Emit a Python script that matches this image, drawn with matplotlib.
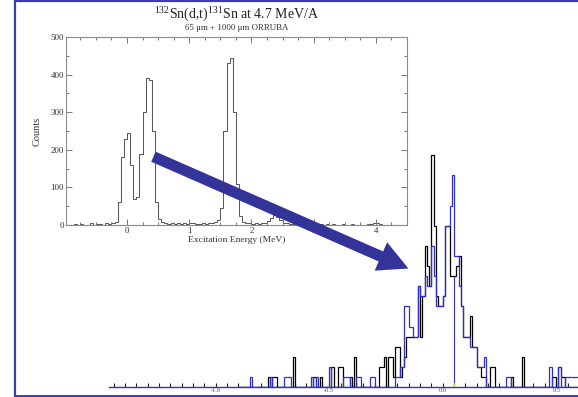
import numpy as np
import matplotlib
matplotlib.use("Agg")
import matplotlib.pyplot as plt
from matplotlib.ticker import MultipleLocator, FixedLocator
from matplotlib.patches import FancyArrow

plt.rcParams["font.family"] = ["Liberation Serif", "DejaVu Serif"]
plt.rcParams["mathtext.fontset"] = "custom"
plt.rcParams["mathtext.rm"] = "Liberation Serif"

# ---- inset spectrum: 132Sn(d,t)131Sn excitation energy, 0.05 MeV bins ----
inset_edge_start = -1.0
inset_bin_width = 0.05
inset_counts = [
    0, 0, 0, 2, 0, 3, 0, 1, 4, 0,
    2, 3, 1, 4, 2, 5, 8, 60, 180, 230,
    245, 160, 70, 75, 190, 300, 390, 385, 250, 60,
    15, 8, 5, 3, 6, 2, 4, 3, 5, 2,
    4, 6, 3, 2, 5, 3, 4, 6, 8, 12,
    45, 250, 430, 445, 300, 110, 25, 8, 4, 6,
    3, 5, 2, 4, 6, 10, 18, 27, 22, 12,
    6, 4, 3, 2, 4, 1, 3, 2, 1, 3,
    2, 1, 2, 0, 2, 1, 3, 0, 1, 2,
    0, 1, 2, 0, 1, 1, 0, 2, 3, 6,
    5, 2, 1, 0, 1, 0, 1, 0, 0, 0,
]
inset_xticks = [0, 1, 2, 3, 4]
inset_yticks = [0, 100, 200, 300, 400, 500]

# ---- main spectrum: two gated histograms, 0.01 MeV bins ----
main_edge_start = -0.90
main_bin_width = 0.01
black_counts = [
    0, 0, 0, 0, 0, 0, 0, 0, 0, 0, 0, 0, 0, 1, 0, 1, 1, 0, 0,
    0, 0, 0, 0, 0, 3, 0, 0, 0, 0, 0, 0, 0, 0, 1, 0, 0, 1, 0,
    0, 0, 0, 2, 0, 0, 2, 2, 0, 0, 0, 1, 0, 3, 0, 0, 0, 0, 0,
    0, 0, 0, 0, 0, 2, 2, 3, 0, 3, 3, 1, 4, 4, 1, 2, 3, 5, 5,
    5, 5, 5, 10, 5, 9, 14, 12, 10, 23, 16, 9, 8, 8, 9, 16, 16, 11, 11,
    11, 12, 13, 8, 5, 5, 5, 7, 4, 4, 2, 2, 1, 1, 0, 0, 2, 2, 0,
    0, 0, 0, 0, 0, 0, 1, 0, 0, 0, 0, 3, 0, 0, 0, 0, 0, 0, 0,
    0, 0, 0, 0, 0, 1, 1, 0, 2, 1, 1, 0, 0, 0, 0, 0, 0, 0, 0,
]
blue_counts = [
    0, 0, 0, 0, 0, 1, 0, 0, 0, 0, 0, 0, 0, 0, 1, 0, 0, 0, 0,
    0, 1, 1, 1, 0, 0, 0, 0, 0, 0, 0, 0, 0, 1, 0, 1, 0, 0, 0,
    0, 0, 2, 0, 0, 0, 0, 0, 1, 1, 1, 0, 0, 0, 1, 1, 0, 0, 0,
    0, 1, 1, 0, 0, 0, 0, 0, 0, 0, 0, 0, 1, 1, 2, 2, 8, 8, 6,
    6, 5, 5, 10, 9, 9, 11, 10, 10, 14, 11, 8, 8, 8, 9, 16, 16, 18, 21,
    13, 13, 10, 8, 5, 5, 5, 4, 4, 4, 2, 2, 2, 3, 0, 0, 0, 0, 0,
    0, 0, 0, 0, 1, 1, 0, 0, 0, 0, 0, 0, 0, 0, 0, 0, 0, 0, 0,
    0, 0, 0, 0, 2, 0, 0, 0, 2, 0, 0, 1, 1, 1, 1, 1, 1, 1, 1,
]
main_tick_values = [-1.0, -0.5, 0.0, 0.5]
main_tick_labels = ["-1.0", "-0.5", "0.0", "0.5"]
marker_energy = 0.05
marker_height = 11

W, H = 578, 397
fig = plt.figure(figsize=(W / 100, H / 100), dpi=100)
fig.patch.set_facecolor("white")

# ---------------- main spectrum axes ----------------
ax = fig.add_axes([109 / W, 10 / H, (W - 109) / W, 250 / H])
ax.patch.set_alpha(0)
edges_main = main_edge_start + main_bin_width * np.arange(len(black_counts) + 1)
ax.stairs(black_counts, edges_main, color="black", lw=0.9, zorder=2)
ax.stairs(blue_counts, edges_main, color="#2e2ed2", lw=0.9, zorder=2.1)
ax.vlines(marker_energy, 0, marker_height, color="#2e2ed2", lw=0.8, zorder=2.2)
ax.vlines(marker_energy, 0, 0.4, color="#f0e030", lw=1.2, zorder=3)
ax.set_xlim(-1.47, -1.47 + (W - 109) / 227)
ax.set_ylim(0, 24.8)
for s in ("left", "right", "top"):
    ax.spines[s].set_visible(False)
ax.spines["bottom"].set_color("#3535a8")
ax.spines["bottom"].set_linewidth(1.0)
ax.spines["bottom"].set_zorder(2.5)
ax.set_yticks([])
ax.xaxis.set_major_locator(FixedLocator(main_tick_values))
ax.xaxis.set_minor_locator(MultipleLocator(0.05))
ax.set_xticklabels(main_tick_labels)
ax.tick_params(axis="x", which="both", direction="in", length=2.6, width=0.8,
               color="#222222", labelsize=4.6, labelcolor="#444455", pad=1.0)

# ---------------- inset spectrum axes ----------------
ax2 = fig.add_axes([66 / W, (H - 225) / H, 341 / W, 188 / H])
ax2.set_facecolor("white")
edges_inset = inset_edge_start + inset_bin_width * np.arange(len(inset_counts) + 1)
ax2.stairs(inset_counts, edges_inset, color="#5a5a5a", lw=0.75)
ax2.set_xlim(-0.98, 4.5)
ax2.set_ylim(0, 500)
ax2.set_xticks(inset_xticks)
ax2.set_yticks(inset_yticks)
ax2.xaxis.set_minor_locator(MultipleLocator(0.25))
ax2.yaxis.set_minor_locator(MultipleLocator(50))
for s in ax2.spines.values():
    s.set_color("#8a8a8a")
    s.set_linewidth(0.8)
ax2.tick_params(which="both", direction="in", top=True, right=True,
                color="#777777", width=0.7, labelsize=6.5, labelcolor="#333333")
ax2.tick_params(which="major", length=4.5, pad=1.5)
ax2.tick_params(which="minor", length=2.5)
ax2.set_xlabel("Excitation Energy (MeV)", fontsize=6.8, color="#333333", labelpad=0.5)
ax2.set_ylabel("Counts", fontsize=7.5, color="#333333", labelpad=6)

fig.text(236.5 / W, 1 - 14 / H,
         r"$^{132}$Sn(d,t)$^{131}$Sn at 4.7 MeV/A",
         ha="center", va="center", fontsize=10, color="#222222")
fig.text(236.5 / W, 1 - 28.5 / H, "65 \u03bcm + 1000 \u03bcm ORRUBA",
         ha="center", va="center", fontsize=6.4, color="#333333")

# ---------------- frame and arrow overlay ----------------
ov = fig.add_axes([0, 0, 1, 1], zorder=10)
ov.set_xlim(0, W)
ov.set_ylim(H, 0)
ov.axis("off")
ov.patch.set_alpha(0)
frame_color = "#3c3cac"
ov.plot([14.5, 14.5], [0, 396.5], color=frame_color, lw=1.6, solid_capstyle="butt")
ov.plot([14, W], [0.8, 0.8], color=frame_color, lw=1.6, solid_capstyle="butt")
ov.plot([14, W], [396.3, 396.3], color=frame_color, lw=1.4, solid_capstyle="butt")
ov.add_patch(FancyArrow(153.4, 156.7, 255.0, 111.8, width=11, head_width=31,
                        head_length=30, length_includes_head=True,
                        color="#333399", lw=0))

fig.savefig("out.png", dpi=100)
